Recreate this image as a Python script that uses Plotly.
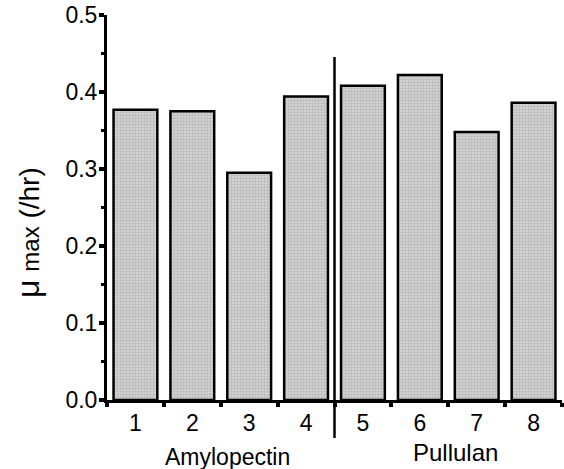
import plotly.graph_objects as go

categories = ["1", "2", "3", "4", "5", "6", "7", "8"]
mu_max = [0.377, 0.375, 0.295, 0.394, 0.408, 0.422, 0.348, 0.386]
groups = ["Amylopectin", "Pullulan"]
y_ticks = [0.0, 0.1, 0.2, 0.3, 0.4, 0.5]

xpos = list(range(len(categories)))

fig = go.Figure()
fig.add_trace(go.Bar(
    x=xpos, y=mu_max, width=0.77,
    marker=dict(color="#c4c4c4", line=dict(color="black", width=2.5),
                pattern=dict(shape=".", fgcolor="#9a9a9a", bgcolor="#d8d8d8", size=3, solidity=0.5)),
))

font = "Liberation Sans, Arial, sans-serif"
fig.update_layout(
    width=564, height=469,
    margin=dict(l=107, r=2, t=15, b=69, autoexpand=False),
    paper_bgcolor="white", plot_bgcolor="white",
    showlegend=False,
    font=dict(family=font, color="black", size=23),
    xaxis=dict(
        range=[-0.5, 7.5], tickmode="array", tickvals=xpos, ticktext=categories,
        ticks="", showgrid=False, zeroline=False, automargin=False,
        showline=True, linecolor="black", linewidth=3,
        tickfont=dict(size=23),
        minor=dict(tickmode="array", tickvals=[i - 0.5 for i in range(len(categories) + 1)],
                   ticks="outside", ticklen=4, tickwidth=4, tickcolor="black", showgrid=False),
    ),
    yaxis=dict(
        range=[0, 0.5], tickmode="array", tickvals=y_ticks,
        ticktext=[f"{v:.1f}" for v in y_ticks],
        ticks="outside", ticklen=5, tickwidth=4, tickcolor="black",
        showgrid=False, zeroline=False, automargin=False,
        showline=True, linecolor="black", linewidth=3,
        tickfont=dict(size=23), ticklabelstandoff=-3,
        minor=dict(tickmode="array", tickvals=[0.05, 0.15, 0.25, 0.35, 0.45],
                   ticks="outside", ticklen=3, tickwidth=3, tickcolor="black", showgrid=False),
    ),
)

fig.add_annotation(
    x=0, xref="paper", y=0.434, yref="paper", xshift=-79,
    text='<span style="font-size:32px">μ</span> <span style="font-size:24px">max</span> (/hr)',
    textangle=-90, showarrow=False, xanchor="center", yanchor="middle", font=dict(size=28),
)

fig.add_shape(type="line", xref="x", yref="paper", x0=3.5, x1=3.5, y0=-0.099, y1=0.891,
              line=dict(color="black", width=2.5))

fig.add_annotation(x=1.5, y=-0.109, xref="x", yref="paper", text=groups[0], showarrow=False,
                   xshift=7, yanchor="top", font=dict(size=23))
fig.add_annotation(x=5.5, y=-0.096, xref="x", yref="paper", text=groups[1], showarrow=False,
                   xshift=7, yanchor="top", font=dict(size=24))

fig.write_html("out.html", config={"displayModeBar": False},
               post_script="document.body.style.margin='0';")
